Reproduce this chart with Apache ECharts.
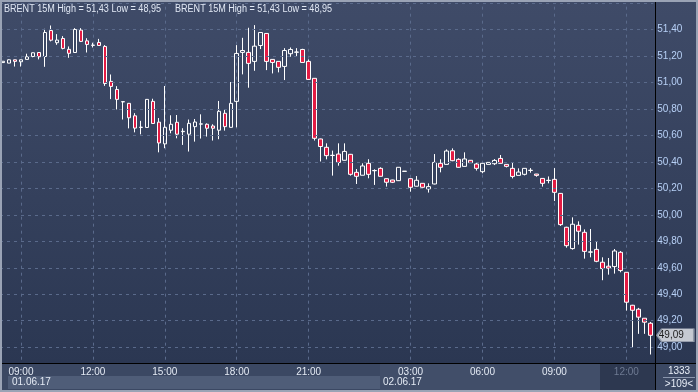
<!DOCTYPE html>
<html><head><meta charset="utf-8">
<script src="https://cdn.jsdelivr.net/npm/echarts/dist/echarts.min.js"></script>
<style>html,body{margin:0;padding:0;background:#2b3651;}#c{width:698px;height:392px;}</style>
</head><body><div id="c"></div>
<script>
const times = ['08:15','08:30','08:45','09:00','09:15','09:30','09:45','10:00','10:15','10:30','10:45','11:00','11:15','11:30','11:45','12:00','12:15','12:30','12:45','13:00','13:15','13:30','13:45','14:00','14:15','14:30','14:45','15:00','15:15','15:30','15:45','16:00','16:15','16:30','16:45','17:00','17:15','17:30','17:45','18:00','18:15','18:30','18:45','19:00','19:15','19:30','19:45','20:00','20:15','20:30','20:45','21:00','21:15','21:30','21:45','22:00','22:15','22:30','22:45','23:00','23:15','23:30','23:45','00:00','00:15','00:30','00:45','02:45','03:00','03:15','03:30','03:45','04:00','04:15','04:30','04:45','05:00','05:15','05:30','05:45','06:00','06:15','06:30','06:45','07:00','07:15','07:30','07:45','08:00','08:15','08:30','08:45','09:00','09:15','09:30','09:45','10:00','10:15','10:30','10:45','11:00','11:15','11:30','11:45','12:00','12:15','12:30','12:45','13:00'];
const dayStart2 = 63;
const opens  = [51.150,51.146,51.171,51.156,51.174,51.196,51.226,51.196,51.392,51.300,51.332,51.250,51.226,51.395,51.314,51.280,51.302,51.272,51.008,50.947,50.853,50.842,50.748,50.660,50.660,50.857,50.700,50.536,50.639,50.699,50.628,50.609,50.666,50.685,50.684,50.671,50.639,50.767,50.661,50.857,51.227,51.227,51.159,51.279,51.370,51.174,51.159,51.121,51.217,51.228,51.249,51.159,51.031,50.573,50.510,50.448,50.459,50.412,50.457,50.321,50.299,50.389,50.333,50.351,50.273,50.263,50.258,50.328,50.273,50.216,50.238,50.196,50.233,50.389,50.381,50.484,50.419,50.366,50.412,50.384,50.326,50.381,50.386,50.426,50.381,50.351,50.298,50.306,50.335,50.308,50.275,50.259,50.268,50.162,49.906,49.745,49.921,49.868,49.718,49.739,49.642,49.612,49.609,49.717,49.566,49.317,49.287,49.219,49.181];
const closes = [51.160,51.171,51.159,51.171,51.194,51.224,51.194,51.377,51.319,51.320,51.257,51.220,51.400,51.310,51.287,51.282,51.279,50.992,50.970,50.872,50.855,50.733,50.655,50.662,50.872,50.690,50.543,50.661,50.684,50.609,50.631,50.691,50.701,50.687,50.654,50.654,50.782,50.666,50.842,51.219,51.241,51.144,51.274,51.377,51.159,51.151,51.114,51.241,51.249,51.230,51.151,51.023,50.578,50.516,50.447,50.450,50.396,50.479,50.306,50.291,50.369,50.306,50.335,50.291,50.246,50.246,50.359,50.330,50.208,50.261,50.208,50.213,50.396,50.359,50.482,50.409,50.359,50.422,50.394,50.351,50.389,50.396,50.411,50.389,50.366,50.290,50.323,50.351,50.337,50.298,50.238,50.261,50.170,49.926,49.767,49.929,49.876,49.724,49.720,49.649,49.594,49.597,49.727,49.579,49.340,49.279,49.227,49.189,49.090];
const lows   = [51.150,51.145,51.120,51.120,51.174,51.190,51.174,51.118,51.310,51.284,51.250,51.186,51.226,51.305,51.226,51.264,51.278,50.974,50.874,50.796,50.720,50.653,50.623,50.608,50.658,50.690,50.472,50.503,50.616,50.578,50.528,50.478,50.553,50.576,50.591,50.561,50.571,50.636,50.660,50.661,51.061,50.960,51.088,51.252,51.093,51.068,51.076,51.018,51.194,51.194,51.151,51.020,50.561,50.403,50.419,50.296,50.371,50.410,50.296,50.233,50.299,50.276,50.226,50.290,50.213,50.240,50.256,50.328,50.175,50.215,50.205,50.168,50.230,50.321,50.380,50.405,50.356,50.365,50.392,50.334,50.314,50.380,50.376,50.388,50.358,50.275,50.297,50.298,50.318,50.288,50.213,50.238,50.104,49.916,49.752,49.737,49.775,49.669,49.679,49.642,49.506,49.548,49.556,49.566,49.277,49.000,49.101,49.101,48.945];
const highs  = [51.160,51.175,51.172,51.172,51.217,51.226,51.227,51.405,51.430,51.365,51.350,51.272,51.410,51.410,51.334,51.300,51.329,51.282,51.060,50.972,50.856,50.845,50.768,50.710,50.875,50.877,50.731,50.973,50.752,50.754,50.654,50.720,50.724,50.759,50.691,50.684,50.860,50.792,51.003,51.282,51.337,51.413,51.433,51.380,51.372,51.176,51.160,51.259,51.264,51.259,51.254,51.174,51.032,50.575,50.540,50.485,50.540,50.540,50.460,50.346,50.389,50.420,50.344,50.359,50.275,50.265,50.360,50.330,50.275,50.293,50.240,50.238,50.459,50.420,50.494,50.502,50.427,50.472,50.414,50.396,50.390,50.397,50.421,50.452,50.382,50.396,50.351,50.352,50.353,50.309,50.276,50.290,50.353,50.165,49.910,49.981,49.951,49.890,49.893,49.800,49.679,49.674,49.742,49.727,49.567,49.320,49.297,49.220,49.191];
const gridIdx = [3,15,27,39,51,68,80,92,104];
const labelIdx = [3,15,27,39,51,68,80,92,104];
const dimLabelIdx = 104;
const yMin = 48.8, yMax = 51.6, yStep = 0.2;
const titleText = 'BRENT 15M High = 51,43 Low = 48,95';
const dateLabels = ['01.06.17','02.06.17'];
const barCount = '1333';
const visibleCount = '>109<';

const FONT = '"Liberation Sans",Arial,sans-serif';
const F10 = '10px ' + FONT;
const cats = times.map((t,i)=>(i<dayStart2?'01.06 ':'02.06 ')+t);
const data = opens.map((o,i)=>[o, closes[i], lows[i], highs[i]]);
const last = data.length-1;
const fmt = v => Number(v).toFixed(2).replace('.', ',');
const GRIDC = '#5a6a8b';

// fit the title text to the width it has in the reference
const mctx = document.createElement('canvas').getContext('2d');
mctx.font = F10;
const titleScale = 157 / mctx.measureText(titleText).width;

const chart = echarts.init(document.getElementById('c'), null, {renderer:'canvas'});
const bg = new echarts.graphic.LinearGradient(0,0,0,1,[{offset:0,color:'#3f4b68'},{offset:1,color:'#2b3752'}]);
chart.setOption({
  animation:false,
  grid:[
    {left:-0.7, right:44.7, top:3, bottom:18.3},
    {left:-0.7, right:44.7, top:364, height:26}
  ],
  xAxis:[
    {type:'category', gridIndex:0, data:cats, boundaryGap:true, axisLine:{show:false}, axisTick:{show:false}, axisLabel:{show:false}, splitLine:{show:false}},
    {type:'category', gridIndex:1, data:cats, position:'top', boundaryGap:true, z:30,
     axisLine:{show:false}, axisTick:{show:false}, splitLine:{show:false},
     axisLabel:{show:true, inside:true, margin:3, interval:(i)=>labelIdx.includes(i),
       formatter:v=>v.slice(6), fontSize:10, fontFamily:FONT,
       color:(v)=> v===cats[dimLabelIdx] ? '#6e7a92' : '#e4eaf4'}}
  ],
  yAxis:[
    {type:'value', gridIndex:0, position:'right', min:yMin, max:yMax, interval:yStep, offset:2, z:5,
     axisLine:{show:true, lineStyle:{color:'#000', width:1}}, axisTick:{show:false},
     axisLabel:{formatter:fmt, color:'#b7d0f6', fontSize:10, fontFamily:FONT, margin:2, showMinLabel:false, showMaxLabel:false},
     splitLine:{show:true, lineStyle:{color:GRIDC, type:[3,4], width:1}}},
    {type:'value', gridIndex:1, show:false}
  ],
  series:[{
    type:'candlestick', xAxisIndex:0, yAxisIndex:0, data:data, barWidth:4,
    itemStyle:{color:'rgba(0,0,0,0)', color0:'#e31b43', borderColor:'#ffffff', borderColor0:'#ffffff', borderWidth:1},
    markLine:{silent:true, symbol:'none', label:{show:false}, lineStyle:{color:GRIDC, type:[3,4], width:1}, z:1,
      data:gridIdx.map(i=>({xAxis:i}))},
    markPoint:{silent:true, symbol:'path://M0,6L5,0H38V12H5Z', symbolSize:[37,13], symbolOffset:[25,0],
      itemStyle:{color:'#c6cad2', borderColor:'#8e96a6', borderWidth:1},
      label:{show:true, formatter:()=>fmt(closes[last]), color:'#1c1c1c', fontSize:10, fontFamily:FONT, offset:[-4,0]},
      data:[{coord:[last, closes[last]]}]}
  }],
  graphic:[
    {type:'rect', z:-100, silent:true, shape:{x:0,y:0,width:698,height:364}, style:{fill:bg}},
    {type:'rect', z:10, silent:true, shape:{x:0,y:364,width:698,height:28}, style:{fill:'#3b4863'}},
    {type:'rect', z:11, silent:true, shape:{x:8,y:376,width:372,height:13}, style:{fill:'#4f5d78'}},
    {type:'rect', z:11, silent:true, shape:{x:380,y:364,width:220,height:26}, style:{fill:'#414e69'}},
    {type:'rect', z:11, silent:true, shape:{x:600,y:364,width:55,height:26}, style:{fill:'#2d3850'}},
    {type:'line', z:12, silent:true, shape:{x1:0,y1:363.5,x2:698,y2:363.5}, style:{stroke:'#000',lineWidth:1}},
    {type:'line', z:12, silent:true, shape:{x1:655.5,y1:0,x2:655.5,y2:392}, style:{stroke:'#000',lineWidth:1}},
    {type:'text', z:40, silent:true, style:{text:dateLabels[0], x:12, y:377, fill:'#e4eaf4', font:F10}},
    {type:'text', z:40, silent:true, style:{text:dateLabels[1], x:383, y:377, fill:'#e4eaf4', font:F10}},
    {type:'text', z:40, silent:true, style:{text:barCount, x:679, y:366, align:'center', fill:'#e8eef8', font:F10}},
    {type:'line', z:40, silent:true, shape:{x1:663,y1:377.5,x2:695,y2:377.5}, style:{stroke:'#8a96ad',lineWidth:1}},
    {type:'text', z:40, silent:true, style:{text:visibleCount, x:679, y:379, align:'center', fill:'#e8eef8', font:F10}},
    {type:'text', z:40, silent:true, x:4, y:4, scaleX:titleScale, style:{text:titleText, x:0, y:0, fill:'#e2e9f5', font:F10}},
    {type:'text', z:40, silent:true, x:175, y:4, scaleX:titleScale, style:{text:titleText, x:0, y:0, fill:'#e2e9f5', font:F10}},
    {type:'rect', z:50, silent:true, shape:{x:1,y:1,width:696,height:390}, style:{fill:'none', stroke:'#9aa3b5', lineWidth:2}}
  ]
});
</script></body></html>
